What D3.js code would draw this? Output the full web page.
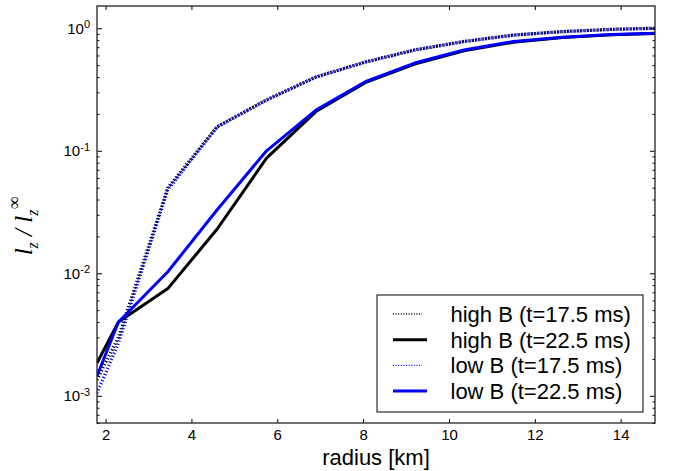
<!DOCTYPE html>
<html>
<head>
<meta charset="utf-8">
<script src="https://cdn.jsdelivr.net/npm/d3@7"></script>
<style>
  body { margin: 0; background: #fff; }
  svg text { font-family: "Liberation Sans", Arial, sans-serif; fill: #000; }
</style>
</head>
<body>
<svg id="chart" width="673" height="471"></svg>
<script>
// radius grid [km] (visible vertices, ends at the axis limits)
const radius = [1.8, 2.3, 3.45, 4.6, 5.75, 6.9, 8.05, 9.2, 10.35, 11.5, 12.65, 13.8, 14.8];

// l_z / l_z^inf
const highB175 = [1.35e-3, 3.0e-3, 0.050, 0.157, 0.26, 0.40, 0.53, 0.665, 0.78, 0.88, 0.94, 0.98, 1.0];
const highB225 = [1.85e-3, 4.0e-3, 7.5e-3, 0.023, 0.087, 0.209, 0.36, 0.51, 0.655, 0.77, 0.84, 0.885, 0.905];
const lowB175  = [1.05e-3, 2.7e-3, 0.048, 0.157, 0.26, 0.40, 0.53, 0.665, 0.78, 0.88, 0.94, 0.98, 1.0];
const lowB225  = [1.45e-3, 4.0e-3, 0.0103, 0.033, 0.10, 0.215, 0.366, 0.52, 0.665, 0.78, 0.845, 0.89, 0.91];

const xTicks = [2, 4, 6, 8, 10, 12, 14];
const yTicks = [1e-3, 1e-2, 1e-1, 1];

const series = [
  { label: "high B (t=17.5 ms)", values: highB175, color: "#000", dotted: true },
  { label: "high B (t=22.5 ms)", values: highB225, color: "#000", dotted: false },
  { label: "low B (t=17.5 ms)",  values: lowB175,  color: "#0000ff", dotted: true },
  { label: "low B (t=22.5 ms)",  values: lowB225,  color: "#0000ff", dotted: false }
];

const svg = d3.select("#chart");
const margin = { top: 6, right: 18, bottom: 48, left: 97 };
const width = +svg.attr("width") - margin.left - margin.right;
const height = +svg.attr("height") - margin.top - margin.bottom;

const g = svg.append("g").attr("transform", `translate(${margin.left},${margin.top})`);

const x = d3.scaleLinear().domain([1.8, 14.8]).range([0, width]);
const y = d3.scaleLog().domain([6e-4, 1.52]).range([height, 0]);

// minor ticks 2..9 x 10^k
const yMinor = [];
[-4, -3, -2, -1, 0].forEach(k => {
  for (let m = 2; m <= 9; m++) {
    const v = m * Math.pow(10, k);
    if (v >= 6e-4 && v <= 1.52) yMinor.push(v);
  }
});

g.append("clipPath").attr("id", "plot-clip")
  .append("rect").attr("width", width).attr("height", height);

// lines
const line = d3.line()
  .x((d, i) => x(radius[i]))
  .y(d => y(d));

g.append("g").attr("clip-path", "url(#plot-clip)")
  .selectAll("path")
  .data(series)
  .join("path")
  .attr("d", d => line(d.values))
  .attr("fill", "none")
  .attr("stroke", d => d.color)
  .attr("stroke-width", d => d.dotted ? 3.3 : 3)
  .attr("stroke-dasharray", d => d.dotted ? "1.2,2.1" : null)
  .attr("stroke-linejoin", "round");

// axes
const axisStyle = sel => {
  sel.select(".domain").remove();
  sel.selectAll("line").attr("stroke", "#000").attr("stroke-width", 1);
};

g.append("g")
  .attr("transform", `translate(0,${height})`)
  .call(d3.axisBottom(x).tickValues(xTicks).tickSize(-4).tickPadding(6).tickFormat(d3.format("d")))
  .call(axisStyle)
  .selectAll("text").style("font-size", "15px");

g.append("g")
  .call(d3.axisTop(x).tickValues(xTicks).tickSize(-4).tickFormat(""))
  .call(axisStyle);

const expLabel = (sel) => {
  sel.selectAll("text").each(function(d) {
    const t = d3.select(this);
    const e = Math.round(Math.log10(d));
    t.text(null).style("font-size", "15px").attr("dy", "0.33em");
    t.append("tspan").text("10");
    t.append("tspan").attr("dy", "-0.5em").style("font-size", "11px").text(e);
  });
};

g.append("g")
  .call(d3.axisLeft(y).tickValues(yTicks).tickSize(-5).tickPadding(7))
  .call(axisStyle)
  .call(expLabel);

g.append("g")
  .call(d3.axisLeft(y).tickValues(yMinor).tickSize(-2.5).tickFormat(""))
  .call(axisStyle);

g.append("g")
  .attr("transform", `translate(${width},0)`)
  .call(d3.axisRight(y).tickValues(yTicks).tickSize(-5).tickFormat(""))
  .call(axisStyle);

g.append("g")
  .attr("transform", `translate(${width},0)`)
  .call(d3.axisRight(y).tickValues(yMinor).tickSize(-2.5).tickFormat(""))
  .call(axisStyle);

// box
g.append("rect")
  .attr("width", width).attr("height", height)
  .attr("fill", "none").attr("stroke", "#222").attr("stroke-width", 1.3);

// axis labels
g.append("text")
  .attr("x", x(8.3))
  .attr("y", height + 42)
  .attr("text-anchor", "middle")
  .style("font-size", "22px")
  .text("radius [km]");

const yl = svg.append("text")
  .attr("transform", "translate(32,226) rotate(-90)")
  .attr("text-anchor", "middle")
  .style("font-family", "'Liberation Serif', 'Times New Roman', serif")
  .style("font-style", "italic")
  .style("font-size", "25px");
yl.append("tspan").text("l");
yl.append("tspan").attr("dy", 6).style("font-size", "16px").text("z");
yl.append("tspan").attr("dy", -6).text(" / l");
yl.append("tspan").attr("dy", 6).style("font-size", "16px").text("z");
yl.append("tspan").attr("dy", -18).style("font-size", "18px").style("font-style", "normal").text("\u221e");

// legend
const legend = g.append("g")
  .attr("transform", `translate(${377 - margin.left},${295 - margin.top})`);

legend.append("rect")
  .attr("width", 266).attr("height", 117)
  .attr("fill", "#fff").attr("stroke", "#000").attr("stroke-width", 1);

series.forEach((d, i) => {
  const row = legend.append("g").attr("transform", `translate(0,${19 + i * 25.7})`);
  row.append("line")
    .attr("x1", 16).attr("x2", d.dotted ? 45 : 50)
    .attr("stroke", d.color)
    .attr("stroke-width", d.dotted ? 1.4 : 3)
    .attr("stroke-dasharray", d.dotted ? "1,1.6" : null);
  row.append("text")
    .attr("x", 73.5)
    .attr("dy", "0.36em")
    .style("font-size", "22px")
    .text(d.label);
});
</script>
</body>
</html>
